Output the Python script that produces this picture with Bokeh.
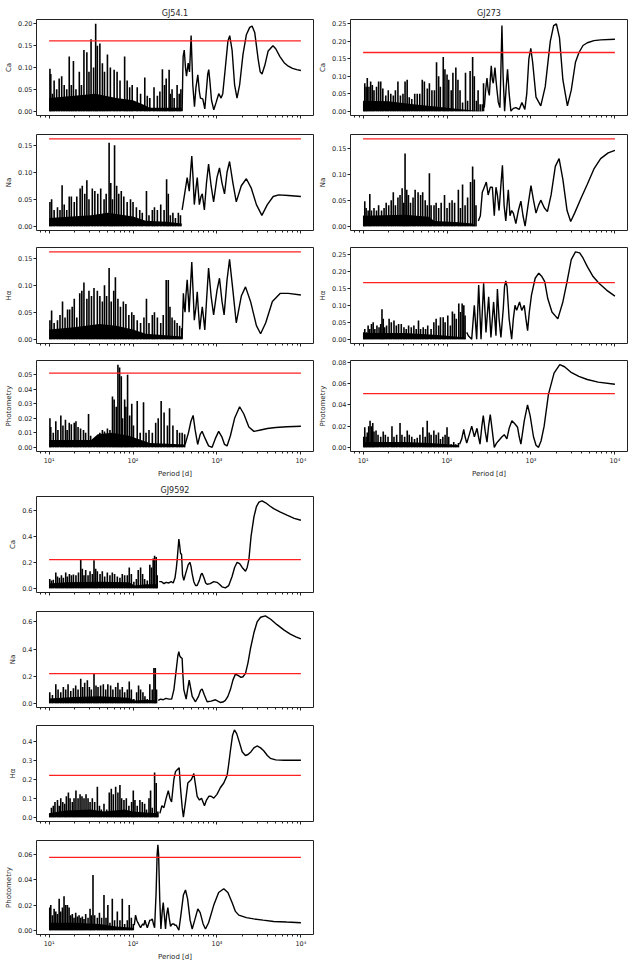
import numpy as np
from bokeh.plotting import figure
from bokeh.layouts import column, row
from bokeh.models import FixedTicker, PrintfTickFormatter
from bokeh.embed import file_html
from bokeh.resources import INLINE

# ---------------- data: (log10 period [d], power) ----------------
threshold_period = [10, 10000]
x_ticks = [10, 100, 1000, 10000]
x_tick_labels = ["10\u00b9", "10\u00b2", "10\u00b3", "10\u2074"]

# GJ54.1 -------------------------------------------------------------
gj54_ca_spikes = [(1.01,0.097),(1.02,0.085),(1.04,0.04),(1.06,0.07),(1.09,0.05),(1.12,0.075),(1.15,0.08),(1.18,0.06),(1.21,0.05),(1.24,0.125),(1.265,0.06),(1.29,0.115),(1.32,0.05),(1.36,0.09),(1.385,0.06),(1.415,0.14),(1.45,0.135),(1.475,0.09),(1.50,0.165),(1.53,0.10),(1.555,0.20),(1.575,0.15),(1.605,0.155),(1.635,0.11),(1.66,0.09),(1.695,0.13),(1.73,0.10),(1.775,0.095),(1.81,0.09),(1.845,0.07),(1.90,0.125),(1.93,0.07),(1.96,0.055),(1.99,0.06),(2.05,0.055),(2.09,0.04),(2.14,0.077),(2.17,0.035),(2.20,0.03),(2.25,0.055),(2.29,0.035),(2.32,0.045),(2.35,0.096),(2.375,0.06),(2.395,0.075),(2.43,0.095),(2.445,0.04),(2.465,0.05),(2.49,0.03),(2.525,0.06),(2.55,0.04),(2.57,0.05)]
gj54_ca_mass = [(1.0,0.03),(1.3,0.035),(1.55,0.04),(1.8,0.03),(2.0,0.025),(2.12,0.015),(2.2,0.008),(2.58,0.008)]
gj54_ca_curve = [(2.585,0.0),(2.592,0.08),(2.597,0.125),(2.61,0.14),(2.625,0.10),(2.637,0.08),(2.657,0.11),(2.673,0.09),(2.692,0.173),(2.712,0.06),(2.732,0.01),(2.75,0.055),(2.772,0.083),(2.79,0.045),(2.803,0.03),(2.831,0.028),(2.855,0.005),(2.875,0.05),(2.89,0.085),(2.902,0.095),(2.915,0.07),(2.935,0.025),(2.962,0.003),(2.99,0.02),(3.021,0.04),(3.049,0.03),(3.069,0.04),(3.10,0.10),(3.13,0.16),(3.152,0.173),(3.18,0.14),(3.21,0.06),(3.239,0.03),(3.27,0.06),(3.31,0.13),(3.35,0.175),(3.39,0.192),(3.418,0.195),(3.45,0.18),(3.49,0.12),(3.515,0.09),(3.537,0.085),(3.57,0.105),(3.61,0.138),(3.667,0.15),(3.70,0.143),(3.75,0.125),(3.80,0.111),(3.85,0.103),(3.90,0.098),(3.95,0.095),(4.0,0.093)]

gj54_na_spikes = [(1.01,0.045),(1.03,0.05),(1.06,0.03),(1.10,0.035),(1.13,0.03),(1.155,0.076),(1.18,0.04),(1.21,0.03),(1.24,0.055),(1.265,0.055),(1.30,0.045),(1.33,0.055),(1.37,0.07),(1.395,0.075),(1.425,0.06),(1.45,0.085),(1.475,0.05),(1.515,0.07),(1.545,0.065),(1.58,0.06),(1.615,0.07),(1.655,0.05),(1.68,0.06),(1.715,0.155),(1.735,0.08),(1.755,0.05),(1.78,0.15),(1.805,0.075),(1.83,0.06),(1.86,0.065),(1.89,0.055),(1.93,0.045),(1.97,0.05),(2.00,0.045),(2.04,0.035),(2.08,0.03),(2.11,0.025),(2.16,0.065),(2.19,0.02),(2.23,0.03),(2.255,0.035),(2.29,0.03),(2.33,0.04),(2.37,0.03),(2.40,0.087),(2.42,0.06),(2.445,0.02),(2.475,0.025),(2.505,0.015),(2.54,0.025),(2.565,0.02)]
gj54_na_mass = [(1.0,0.015),(1.5,0.02),(1.7,0.025),(2.0,0.018),(2.15,0.01),(2.4,0.008),(2.58,0.005)]
gj54_na_curve = [(2.585,0.03),(2.605,0.05),(2.625,0.07),(2.645,0.09),(2.67,0.065),(2.685,0.10),(2.70,0.13),(2.715,0.09),(2.73,0.04),(2.75,0.07),(2.765,0.09),(2.78,0.06),(2.79,0.04),(2.81,0.055),(2.825,0.06),(2.85,0.03),(2.875,0.08),(2.90,0.115),(2.93,0.075),(2.96,0.045),(3.0,0.09),(3.03,0.108),(3.06,0.08),(3.09,0.06),(3.12,0.10),(3.15,0.12),(3.19,0.08),(3.23,0.045),(3.29,0.075),(3.35,0.088),(3.41,0.07),(3.47,0.04),(3.535,0.02),(3.60,0.04),(3.67,0.055),(3.735,0.058),(3.85,0.057),(4.0,0.055)]

gj54_ha_spikes = [(1.01,0.035),(1.03,0.053),(1.06,0.03),(1.10,0.035),(1.13,0.045),(1.16,0.07),(1.19,0.04),(1.22,0.055),(1.245,0.055),(1.275,0.06),(1.30,0.075),(1.33,0.04),(1.365,0.085),(1.39,0.09),(1.415,0.105),(1.45,0.075),(1.475,0.09),(1.505,0.08),(1.535,0.095),(1.575,0.09),(1.605,0.08),(1.635,0.07),(1.66,0.10),(1.685,0.08),(1.715,0.132),(1.74,0.07),(1.77,0.09),(1.79,0.115),(1.82,0.075),(1.85,0.06),(1.885,0.07),(1.915,0.065),(1.95,0.045),(1.985,0.05),(2.01,0.045),(2.05,0.035),(2.09,0.03),(2.13,0.04),(2.16,0.075),(2.19,0.03),(2.23,0.045),(2.255,0.05),(2.29,0.04),(2.33,0.03),(2.36,0.045),(2.395,0.11),(2.42,0.11),(2.44,0.06),(2.465,0.04),(2.495,0.035),(2.525,0.03),(2.555,0.025),(2.58,0.02)]
gj54_ha_mass = [(1.0,0.018),(1.3,0.022),(1.6,0.028),(1.8,0.025),(2.0,0.018),(2.15,0.01),(2.58,0.005)]
gj54_ha_curve = [(2.585,0.0),(2.593,0.05),(2.60,0.085),(2.61,0.06),(2.62,0.05),(2.63,0.08),(2.645,0.11),(2.66,0.075),(2.668,0.05),(2.685,0.10),(2.70,0.143),(2.715,0.09),(2.73,0.035),(2.75,0.06),(2.765,0.088),(2.78,0.05),(2.795,0.018),(2.81,0.04),(2.825,0.06),(2.84,0.04),(2.855,0.017),(2.875,0.07),(2.90,0.132),(2.93,0.08),(2.96,0.045),(3.0,0.09),(3.03,0.113),(3.06,0.07),(3.085,0.045),(3.12,0.11),(3.15,0.148),(3.19,0.09),(3.23,0.03),(3.29,0.08),(3.34,0.097),(3.40,0.07),(3.47,0.025),(3.52,0.01),(3.58,0.03),(3.66,0.07),(3.755,0.085),(3.85,0.085),(4.0,0.082)]

gj54_ph_spikes = [(1.01,0.02),(1.02,0.014),(1.05,0.01),(1.08,0.018),(1.105,0.012),(1.14,0.022),(1.165,0.015),(1.195,0.019),(1.215,0.012),(1.24,0.017),(1.265,0.016),(1.30,0.017),(1.32,0.018),(1.345,0.014),(1.375,0.013),(1.41,0.012),(1.435,0.01),(1.47,0.023),(1.495,0.008),(1.535,0.005),(1.575,0.006),(1.605,0.01),(1.635,0.012),(1.66,0.011),(1.695,0.013),(1.725,0.012),(1.755,0.035),(1.775,0.033),(1.80,0.028),(1.82,0.057),(1.84,0.055),(1.86,0.049),(1.875,0.02),(1.90,0.033),(1.915,0.028),(1.935,0.05),(1.96,0.022),(1.985,0.03),(2.005,0.015),(2.05,0.032),(2.085,0.01),(2.125,0.031),(2.155,0.01),(2.19,0.012),(2.23,0.01),(2.27,0.017),(2.30,0.02),(2.335,0.032),(2.37,0.024),(2.41,0.015),(2.435,0.027),(2.475,0.015),(2.525,0.012),(2.555,0.01),(2.585,0.01),(2.615,0.009)]
gj54_ph_mass = [(1.0,0.005),(1.5,0.005),(1.58,0.009),(1.75,0.01),(1.95,0.008),(2.2,0.003),(2.62,0.002)]
gj54_ph_curve = [(2.62,0.002),(2.66,0.01),(2.69,0.018),(2.716,0.022),(2.74,0.012),(2.77,0.002),(2.80,0.009),(2.823,0.011),(2.86,0.006),(2.90,0.001),(2.942,0.0),(2.98,0.006),(3.02,0.011),(3.06,0.007),(3.09,0.002),(3.12,0.001),(3.16,0.008),(3.21,0.02),(3.27,0.028),(3.32,0.023),(3.38,0.014),(3.44,0.011),(3.52,0.012),(3.60,0.013),(3.70,0.0137),(3.834,0.0142),(4.0,0.0145)]

# GJ273 --------------------------------------------------------------
gj273_ca_spikes = [(1.008,0.025),(1.02,0.08),(1.036,0.07),(1.05,0.095),(1.07,0.07),(1.09,0.085),(1.11,0.075),(1.13,0.06),(1.16,0.07),(1.185,0.085),(1.21,0.085),(1.235,0.065),(1.27,0.045),(1.30,0.06),(1.33,0.05),(1.36,0.045),(1.385,0.06),(1.415,0.085),(1.445,0.045),(1.475,0.05),(1.50,0.085),(1.525,0.09),(1.55,0.04),(1.58,0.035),(1.615,0.05),(1.645,0.05),(1.675,0.05),(1.705,0.09),(1.73,0.085),(1.765,0.065),(1.79,0.08),(1.82,0.06),(1.85,0.06),(1.875,0.14),(1.90,0.10),(1.92,0.07),(1.955,0.155),(1.975,0.12),(2.00,0.105),(2.02,0.09),(2.05,0.06),(2.07,0.11),(2.105,0.125),(2.13,0.09),(2.155,0.06),(2.185,0.025),(2.22,0.11),(2.245,0.03),(2.275,0.115),(2.305,0.155),(2.325,0.10),(2.35,0.03),(2.37,0.06),(2.395,0.02),(2.42,0.02),(2.435,0.08)]
gj273_ca_mass = [(1.0,0.03),(1.3,0.028),(1.6,0.02),(1.8,0.015),(2.0,0.01),(2.2,0.005),(2.44,0.0)]
gj273_ca_curve = [(2.444,0.01),(2.46,0.06),(2.476,0.095),(2.49,0.06),(2.504,0.045),(2.515,0.09),(2.527,0.13),(2.54,0.09),(2.551,0.08),(2.56,0.1),(2.571,0.125),(2.583,0.09),(2.595,0.06),(2.611,0.025),(2.63,0.01),(2.64,0.1),(2.654,0.245),(2.668,0.1),(2.686,0.0),(2.705,0.07),(2.721,0.12),(2.74,0.05),(2.761,0.0),(2.79,0.008),(2.82,0.01),(2.86,0.005),(2.892,0.025),(2.927,0.005),(2.95,0.05),(2.975,0.15),(2.998,0.18),(3.02,0.14),(3.06,0.04),(3.117,0.015),(3.17,0.07),(3.23,0.2),(3.27,0.245),(3.303,0.25),(3.34,0.21),(3.38,0.09),(3.434,0.015),(3.48,0.06),(3.53,0.14),(3.572,0.168),(3.62,0.188),(3.671,0.196),(3.75,0.202),(3.83,0.204),(4.0,0.206)]

gj273_na_spikes = [(1.008,0.02),(1.02,0.048),(1.036,0.035),(1.06,0.03),(1.08,0.062),(1.10,0.03),(1.13,0.035),(1.16,0.03),(1.185,0.04),(1.22,0.03),(1.25,0.035),(1.275,0.045),(1.305,0.04),(1.335,0.05),(1.36,0.065),(1.385,0.04),(1.415,0.055),(1.44,0.06),(1.465,0.073),(1.485,0.045),(1.50,0.14),(1.52,0.07),(1.54,0.06),(1.565,0.045),(1.595,0.055),(1.62,0.07),(1.655,0.065),(1.685,0.06),(1.71,0.065),(1.74,0.05),(1.765,0.04),(1.79,0.102),(1.81,0.04),(1.845,0.04),(1.87,0.045),(1.90,0.035),(1.93,0.045),(1.97,0.06),(2.0,0.035),(2.03,0.045),(2.06,0.05),(2.09,0.045),(2.135,0.07),(2.16,0.035),(2.185,0.08),(2.215,0.04),(2.245,0.055),(2.28,0.085),(2.305,0.115),(2.325,0.09),(2.345,0.04)]
gj273_na_mass = [(1.0,0.02),(1.5,0.022),(1.78,0.018),(1.85,0.01),(2.1,0.008),(2.3,0.005),(2.35,0.0)]
gj273_na_curve = [(2.373,0.01),(2.397,0.02),(2.42,0.065),(2.444,0.075),(2.468,0.085),(2.49,0.06),(2.516,0.075),(2.54,0.075),(2.563,0.02),(2.583,0.075),(2.60,0.06),(2.62,0.03),(2.64,0.075),(2.66,0.117),(2.68,0.04),(2.70,0.01),(2.73,0.07),(2.75,0.02),(2.77,0.03),(2.79,0.025),(2.82,0.005),(2.85,0.03),(2.88,0.048),(2.905,0.02),(2.93,0.0),(2.965,0.04),(3.0,0.078),(3.03,0.05),(3.06,0.025),(3.09,0.04),(3.117,0.05),(3.16,0.035),(3.196,0.028),(3.24,0.06),(3.29,0.115),(3.335,0.13),(3.38,0.09),(3.43,0.03),(3.473,0.009),(3.52,0.025),(3.60,0.055),(3.67,0.08),(3.75,0.11),(3.83,0.13),(3.92,0.141),(4.0,0.146)]

gj273_ha_spikes = [(1.008,0.02),(1.02,0.03),(1.04,0.02),(1.06,0.04),(1.08,0.03),(1.10,0.045),(1.12,0.05),(1.14,0.03),(1.165,0.04),(1.19,0.035),(1.21,0.045),(1.225,0.088),(1.24,0.06),(1.257,0.035),(1.28,0.04),(1.31,0.06),(1.336,0.05),(1.368,0.055),(1.396,0.04),(1.423,0.045),(1.455,0.045),(1.487,0.035),(1.514,0.03),(1.542,0.04),(1.574,0.035),(1.605,0.04),(1.633,0.03),(1.66,0.055),(1.685,0.03),(1.716,0.035),(1.744,0.03),(1.77,0.04),(1.81,0.03),(1.843,0.05),(1.87,0.06),(1.90,0.04),(1.922,0.065),(1.954,0.065),(1.977,0.05),(2.009,0.07),(2.04,0.04),(2.064,0.082),(2.088,0.075),(2.11,0.06),(2.14,0.105),(2.16,0.08),(2.18,0.105),(2.2,0.1),(2.215,0.07)]
gj273_ha_mass = [(1.0,0.018),(1.5,0.018),(1.8,0.014),(2.0,0.01),(2.22,0.005)]
gj273_ha_curve = [(2.235,0.02),(2.254,0.01),(2.274,0.005),(2.294,0.0),(2.325,0.1),(2.353,0.0),(2.377,0.16),(2.405,0.0),(2.436,0.165),(2.464,0.02),(2.496,0.125),(2.523,0.005),(2.555,0.11),(2.583,0.01),(2.60,0.148),(2.62,0.06),(2.642,0.005),(2.67,0.09),(2.685,0.155),(2.70,0.172),(2.715,0.155),(2.74,0.06),(2.77,0.0),(2.79,0.06),(2.81,0.1),(2.83,0.085),(2.864,0.11),(2.89,0.085),(2.92,0.1),(2.94,0.06),(2.96,0.025),(2.98,0.08),(3.006,0.13),(3.05,0.18),(3.093,0.195),(3.13,0.185),(3.164,0.17),(3.20,0.12),(3.25,0.08),(3.32,0.06),(3.38,0.11),(3.43,0.17),(3.48,0.235),(3.53,0.258),(3.58,0.255),(3.62,0.24),(3.67,0.215),(3.74,0.185),(3.81,0.165),(3.90,0.145),(4.0,0.127)]

gj273_ph_spikes = [(1.008,0.01),(1.02,0.019),(1.036,0.01),(1.05,0.014),(1.067,0.02),(1.083,0.025),(1.10,0.02),(1.115,0.023),(1.13,0.015),(1.154,0.016),(1.178,0.012),(1.21,0.01),(1.24,0.015),(1.265,0.012),(1.297,0.01),(1.344,0.02),(1.368,0.01),(1.40,0.012),(1.44,0.023),(1.463,0.012),(1.495,0.01),(1.526,0.016),(1.55,0.012),(1.58,0.01),(1.613,0.008),(1.645,0.009),(1.677,0.012),(1.712,0.019),(1.74,0.01),(1.764,0.025),(1.787,0.014),(1.81,0.012),(1.843,0.016),(1.87,0.012),(1.898,0.014),(1.922,0.008),(1.95,0.01),(1.977,0.012),(2.0,0.019),(2.02,0.01),(2.05,0.003),(2.08,0.005),(2.104,0.003),(2.136,0.004)]
gj273_ph_mass = [(1.0,0.005),(1.5,0.005),(1.8,0.004),(2.0,0.003),(2.14,0.002)]
gj273_ph_curve = [(2.15,0.003),(2.175,0.008),(2.199,0.017),(2.215,0.01),(2.235,0.004),(2.265,0.012),(2.294,0.02),(2.326,0.01),(2.357,0.018),(2.375,0.01),(2.393,0.003),(2.415,0.02),(2.432,0.03),(2.455,0.015),(2.476,0.005),(2.495,0.02),(2.515,0.031),(2.54,0.015),(2.563,0.0),(2.59,0.004),(2.622,0.007),(2.655,0.01),(2.682,0.012),(2.713,0.008),(2.74,0.018),(2.773,0.025),(2.81,0.022),(2.84,0.019),(2.86,0.01),(2.88,0.003),(2.92,0.025),(2.959,0.04),(2.99,0.03),(3.03,0.01),(3.06,0.002),(3.09,0.0),(3.12,0.006),(3.157,0.02),(3.208,0.05),(3.275,0.07),(3.343,0.078),(3.40,0.076),(3.473,0.071),(3.57,0.067),(3.671,0.064),(3.80,0.0615),(4.0,0.0595)]

# GJ9592 -------------------------------------------------------------
gj9592_ca_spikes = [(1.008,0.07),(1.028,0.06),(1.05,0.065),(1.08,0.12),(1.10,0.09),(1.123,0.08),(1.147,0.10),(1.17,0.08),(1.198,0.12),(1.218,0.09),(1.242,0.11),(1.266,0.10),(1.29,0.105),(1.32,0.10),(1.35,0.12),(1.377,0.22),(1.396,0.15),(1.416,0.10),(1.436,0.14),(1.464,0.10),(1.488,0.13),(1.515,0.11),(1.535,0.215),(1.555,0.15),(1.575,0.13),(1.607,0.11),(1.634,0.13),(1.662,0.09),(1.694,0.12),(1.725,0.10),(1.753,0.12),(1.78,0.11),(1.813,0.09),(1.844,0.08),(1.872,0.11),(1.90,0.10),(1.932,0.10),(1.955,0.16),(1.98,0.11),(2.01,0.05),(2.04,0.07),(2.062,0.14),(2.09,0.16),(2.114,0.11),(2.138,0.07),(2.17,0.06),(2.20,0.18),(2.22,0.16),(2.24,0.23),(2.257,0.25),(2.276,0.24),(2.288,0.10)]
gj9592_ca_mass = [(1.0,0.035),(1.2,0.045),(1.6,0.05),(1.95,0.045),(2.02,0.02),(2.15,0.03),(2.29,0.03)]
gj9592_ca_curve = [(2.312,0.05),(2.34,0.05),(2.368,0.035),(2.395,0.045),(2.427,0.04),(2.455,0.05),(2.479,0.04),(2.50,0.08),(2.515,0.15),(2.526,0.22),(2.546,0.38),(2.556,0.33),(2.566,0.27),(2.578,0.26),(2.59,0.10),(2.605,0.06),(2.63,0.12),(2.657,0.18),(2.677,0.20),(2.69,0.17),(2.705,0.11),(2.724,0.05),(2.745,0.02),(2.764,0.02),(2.79,0.06),(2.81,0.105),(2.823,0.115),(2.845,0.08),(2.865,0.04),(2.883,0.03),(2.92,0.035),(2.962,0.05),(3.0,0.045),(3.03,0.03),(3.06,0.01),(3.10,0.002),(3.14,0.02),(3.18,0.09),(3.21,0.16),(3.24,0.20),(3.27,0.19),(3.30,0.16),(3.34,0.13),(3.36,0.16),(3.38,0.22),(3.406,0.40),(3.44,0.55),(3.47,0.63),(3.50,0.665),(3.537,0.675),(3.58,0.66),(3.63,0.635),(3.676,0.615),(3.75,0.59),(3.834,0.565),(3.92,0.54),(4.0,0.525)]

gj9592_na_spikes = [(1.008,0.08),(1.04,0.06),(1.08,0.14),(1.107,0.10),(1.139,0.08),(1.17,0.12),(1.198,0.10),(1.226,0.14),(1.258,0.09),(1.29,0.11),(1.317,0.13),(1.345,0.10),(1.377,0.18),(1.40,0.12),(1.424,0.15),(1.456,0.17),(1.48,0.12),(1.503,0.10),(1.535,0.22),(1.559,0.13),(1.583,0.12),(1.614,0.13),(1.646,0.14),(1.674,0.10),(1.70,0.14),(1.733,0.13),(1.76,0.10),(1.793,0.12),(1.82,0.15),(1.844,0.10),(1.872,0.12),(1.90,0.08),(1.932,0.10),(1.955,0.16),(1.98,0.10),(2.01,0.03),(2.043,0.08),(2.066,0.13),(2.09,0.10),(2.118,0.08),(2.142,0.05),(2.17,0.03),(2.20,0.14),(2.229,0.10),(2.249,0.26),(2.265,0.26),(2.28,0.10)]
gj9592_na_mass = [(1.0,0.035),(1.3,0.045),(1.6,0.05),(1.95,0.04),(2.02,0.02),(2.15,0.025),(2.28,0.02)]
gj9592_na_curve = [(2.30,0.02),(2.328,0.03),(2.36,0.025),(2.39,0.035),(2.43,0.03),(2.46,0.03),(2.487,0.10),(2.506,0.20),(2.534,0.35),(2.546,0.38),(2.556,0.35),(2.566,0.34),(2.585,0.33),(2.595,0.2),(2.605,0.1),(2.633,0.03),(2.65,0.10),(2.669,0.17),(2.687,0.11),(2.705,0.05),(2.744,0.01),(2.78,0.05),(2.805,0.095),(2.823,0.105),(2.85,0.06),(2.883,0.01),(2.93,0.015),(2.982,0.025),(3.01,0.015),(3.04,0.005),(3.07,0.008),(3.10,0.02),(3.13,0.05),(3.16,0.10),(3.19,0.17),(3.22,0.215),(3.25,0.205),(3.287,0.19),(3.31,0.195),(3.34,0.22),(3.37,0.30),(3.398,0.40),(3.44,0.52),(3.478,0.60),(3.52,0.635),(3.577,0.645),(3.64,0.62),(3.715,0.58),(3.80,0.54),(3.874,0.51),(3.94,0.49),(4.0,0.475)]

gj9592_ha_spikes = [(1.008,0.02),(1.028,0.05),(1.05,0.06),(1.07,0.08),(1.10,0.09),(1.12,0.06),(1.139,0.10),(1.163,0.08),(1.186,0.07),(1.206,0.11),(1.23,0.13),(1.25,0.10),(1.277,0.08),(1.297,0.10),(1.32,0.14),(1.345,0.10),(1.369,0.12),(1.392,0.11),(1.416,0.10),(1.44,0.12),(1.464,0.10),(1.488,0.08),(1.515,0.10),(1.543,0.08),(1.575,0.16),(1.60,0.06),(1.622,0.04),(1.654,0.07),(1.686,0.04),(1.717,0.13),(1.741,0.15),(1.765,0.12),(1.793,0.16),(1.82,0.13),(1.844,0.17),(1.864,0.10),(1.892,0.09),(1.92,0.10),(1.951,0.06),(1.983,0.08),(2.003,0.14),(2.023,0.09),(2.05,0.06),(2.082,0.09),(2.11,0.08),(2.138,0.07),(2.16,0.04),(2.19,0.10),(2.209,0.14),(2.229,0.05),(2.257,0.235),(2.276,0.18),(2.296,0.03)]
gj9592_ha_mass = [(1.0,0.02),(1.2,0.035),(1.5,0.04),(1.65,0.03),(1.9,0.04),(2.0,0.03),(2.15,0.025),(2.3,0.02)]
gj9592_ha_curve = [(2.32,0.02),(2.344,0.06),(2.368,0.05),(2.395,0.10),(2.42,0.14),(2.44,0.10),(2.459,0.08),(2.487,0.20),(2.506,0.24),(2.526,0.25),(2.55,0.26),(2.566,0.15),(2.586,0.05),(2.60,0.0),(2.625,0.08),(2.653,0.18),(2.677,0.19),(2.697,0.20),(2.724,0.23),(2.744,0.17),(2.764,0.11),(2.792,0.09),(2.816,0.10),(2.851,0.06),(2.875,0.09),(2.903,0.11),(2.93,0.11),(2.962,0.10),(3.0,0.12),(3.04,0.155),(3.081,0.18),(3.121,0.22),(3.14,0.28),(3.16,0.35),(3.185,0.43),(3.208,0.46),(3.235,0.44),(3.27,0.39),(3.30,0.345),(3.339,0.325),(3.37,0.33),(3.406,0.345),(3.44,0.365),(3.478,0.375),(3.52,0.365),(3.557,0.35),(3.60,0.325),(3.636,0.31),(3.70,0.302),(3.80,0.30),(4.0,0.30)]

gj9592_ph_spikes = [(1.008,0.018),(1.02,0.02),(1.04,0.012),(1.06,0.017),(1.08,0.015),(1.10,0.013),(1.12,0.025),(1.139,0.015),(1.159,0.018),(1.178,0.027),(1.198,0.02),(1.218,0.02),(1.238,0.018),(1.258,0.012),(1.277,0.013),(1.297,0.01),(1.317,0.014),(1.337,0.011),(1.357,0.012),(1.377,0.01),(1.396,0.011),(1.416,0.009),(1.436,0.013),(1.464,0.01),(1.488,0.017),(1.503,0.012),(1.523,0.044),(1.543,0.012),(1.575,0.01),(1.60,0.014),(1.626,0.01),(1.654,0.028),(1.678,0.01),(1.70,0.02),(1.725,0.006),(1.753,0.025),(1.78,0.008),(1.813,0.015),(1.844,0.008),(1.872,0.025),(1.90,0.005),(1.932,0.008),(1.955,0.02),(1.98,0.01),(2.003,0.005)]
gj9592_ph_mass = [(1.0,0.006),(1.3,0.006),(1.6,0.005),(1.8,0.003),(2.0,0.002)]
gj9592_ph_curve = [(2.015,0.004),(2.03,0.012),(2.045,0.008),(2.058,0.006),(2.09,0.002),(2.105,0.004),(2.118,0.005),(2.13,0.004),(2.142,0.008),(2.155,0.005),(2.17,0.002),(2.185,0.005),(2.20,0.008),(2.215,0.008),(2.229,0.009),(2.243,0.005),(2.257,0.002),(2.275,0.03),(2.287,0.06),(2.296,0.068),(2.305,0.06),(2.318,0.025),(2.332,0.001),(2.348,0.015),(2.36,0.022),(2.373,0.012),(2.387,0.001),(2.40,0.012),(2.415,0.018),(2.43,0.01),(2.447,0.003),(2.467,0.005),(2.487,0.005),(2.50,0.004),(2.514,0.004),(2.546,0.0),(2.57,0.012),(2.60,0.028),(2.625,0.032),(2.65,0.025),(2.68,0.008),(2.705,0.001),(2.735,0.008),(2.772,0.017),(2.80,0.014),(2.835,0.005),(2.863,0.001),(2.90,0.006),(2.962,0.02),(3.02,0.03),(3.081,0.033),(3.13,0.03),(3.18,0.022),(3.22,0.015),(3.26,0.012),(3.35,0.01),(3.438,0.009),(3.55,0.008),(3.676,0.007),(3.83,0.0065),(4.0,0.006)]

# false-alarm thresholds (red lines)
thr_gj54 = [0.161, 0.162, 0.162, 0.0512]
thr_gj273 = [0.168, 0.168, 0.167, 0.0506]
thr_gj9592 = [0.22, 0.218, 0.22, 0.0579]

labels = ["Ca", "Na", "H\u03b1", "Photometry"]
yticks_gj54 = [[0, 0.05, 0.10, 0.15, 0.20], [0, 0.05, 0.10, 0.15], [0, 0.05, 0.10, 0.15], [0, 0.01, 0.02, 0.03, 0.04, 0.05, 0.06]]
yticks_gj273 = [[0, 0.05, 0.10, 0.15, 0.20, 0.25], [0, 0.05, 0.10, 0.15], [0, 0.05, 0.10, 0.15, 0.20, 0.25], [0, 0.02, 0.04, 0.06, 0.08]]
yticks_gj9592 = [[0, 0.2, 0.4, 0.6], [0, 0.2, 0.4, 0.6], [0, 0.1, 0.2, 0.3, 0.4], [0, 0.02, 0.04, 0.06]]
yfmt_gj54 = ["%.2f"] * 4
yfmt_gj273 = ["%.2f"] * 4
yfmt_gj9592 = ["%.1f", "%.1f", "%.1f", "%.2f"]

# ---------------- layout / style ----------------
FONT = "DejaVu Sans"
TXT = "#262626"
LEFT = (314, 36, 1)
RIGHT = (322, 36, 9)
ROWS_A = [(130, 19, 15), (113, 4, 13), (113, 4, 13), (124, 4, 24)]
ROWS_B = [(127, 16, 15), (114, 4, 14), (115, 4, 15), (127, 4, 23)]

minor = [k * 10 ** d for d in range(0, 5) for k in range(2, 10)]


def panel(spikes, mass, curve, thr, ylabel, yticks, yfmt, col, rowspec, title=None, bottom=False):
    w, mbl, mbr = col
    h, mbt, mbb = rowspec
    sL, sv = map(np.array, zip(*spikes))
    mL, mv = map(np.array, zip(*mass))
    cL, cv = map(np.array, zip(*curve))
    lo = float(min(0.0, sv.min(), cv.min()))
    hi = float(max(sv.max(), cv.max(), thr))
    pad = 0.05 * (hi - lo)
    xl = np.log10(threshold_period)
    xpad = 0.05 * (xl[1] - xl[0])
    p = figure(width=w, height=h, x_axis_type="log",
               x_range=(float(10 ** (xl[0] - xpad)), float(10 ** (xl[1] + xpad))),
               y_range=(lo - pad, hi + pad),
               output_backend="svg", toolbar_location=None,
               min_border_left=mbl, min_border_right=mbr,
               min_border_top=mbt, min_border_bottom=mbb)
    p.xgrid.visible = False
    p.ygrid.visible = False
    p.outline_line_color = "#222222"
    p.outline_line_width = 1
    p.background_fill_color = "white"
    p.border_fill_color = "white"
    if title:
        p.title.text = title
        p.title.align = "center"
        p.title.text_font = FONT
        p.title.text_font_size = "8px"
        p.title.text_font_style = "normal"
        p.title.text_color = TXT
        p.title.standoff = 3

    # dense noise: filled mass + spikes
    p.varea(x=10 ** mL, y1=np.zeros_like(mv), y2=mv, fill_color="black")
    p.segment(x0=10 ** sL, y0=np.zeros_like(sv), x1=10 ** sL, y1=sv,
              line_color="black", line_width=1.6)
    p.line(10 ** cL, cv, line_color="black", line_width=1.4)
    p.line(threshold_period, [thr, thr], line_color="#ff2020", line_width=1.3)

    xa = p.xaxis[0]
    xa.ticker = FixedTicker(ticks=x_ticks, minor_ticks=minor)
    xa.axis_line_color = None
    xa.major_tick_out = 3
    xa.major_tick_in = 0
    xa.minor_tick_out = 2
    xa.minor_tick_in = 0
    xa.major_tick_line_color = "#222222"
    xa.minor_tick_line_color = "#222222"
    xa.major_label_overrides = {t: s for t, s in zip(x_ticks, x_tick_labels)}
    xa.major_label_text_font = FONT
    xa.major_label_text_font_size = "6.5px"
    xa.major_label_text_color = TXT
    if bottom:
        xa.major_label_standoff = 2
        xa.axis_label = "Period [d]"
        xa.axis_label_text_font = FONT
        xa.axis_label_text_font_size = "7px"
        xa.axis_label_text_font_style = "normal"
        xa.axis_label_text_color = TXT
        xa.axis_label_standoff = 2
    else:
        xa.major_label_text_alpha = 0
        xa.major_label_standoff = 0

    ya = p.yaxis[0]
    ya.ticker = FixedTicker(ticks=yticks)
    ya.formatter = PrintfTickFormatter(format=yfmt)
    ya.axis_line_color = None
    ya.major_tick_out = 3
    ya.major_tick_in = 0
    ya.minor_tick_line_color = None
    ya.major_tick_line_color = "#222222"
    ya.major_label_text_font = FONT
    ya.major_label_text_font_size = "6.5px"
    ya.major_label_text_color = TXT
    ya.major_label_standoff = 1
    ya.axis_label = ylabel
    ya.axis_label_text_font = FONT
    ya.axis_label_text_font_size = "7px"
    ya.axis_label_text_font_style = "normal"
    ya.axis_label_text_color = TXT
    ya.axis_label_standoff = 2
    return p


groups = [
    ("GJ54.1", [(gj54_ca_spikes, gj54_ca_mass, gj54_ca_curve), (gj54_na_spikes, gj54_na_mass, gj54_na_curve),
                (gj54_ha_spikes, gj54_ha_mass, gj54_ha_curve), (gj54_ph_spikes, gj54_ph_mass, gj54_ph_curve)],
     thr_gj54, yticks_gj54, yfmt_gj54, LEFT, ROWS_A),
    ("GJ273", [(gj273_ca_spikes, gj273_ca_mass, gj273_ca_curve), (gj273_na_spikes, gj273_na_mass, gj273_na_curve),
               (gj273_ha_spikes, gj273_ha_mass, gj273_ha_curve), (gj273_ph_spikes, gj273_ph_mass, gj273_ph_curve)],
     thr_gj273, yticks_gj273, yfmt_gj273, RIGHT, ROWS_A),
    ("GJ9592", [(gj9592_ca_spikes, gj9592_ca_mass, gj9592_ca_curve), (gj9592_na_spikes, gj9592_na_mass, gj9592_na_curve),
                (gj9592_ha_spikes, gj9592_ha_mass, gj9592_ha_curve), (gj9592_ph_spikes, gj9592_ph_mass, gj9592_ph_curve)],
     thr_gj9592, yticks_gj9592, yfmt_gj9592, LEFT, ROWS_B),
]

cols = []
for name, series, thrs, yts, yfs, colspec, rows in groups:
    figs = []
    for i, (sp, ms, cv) in enumerate(series):
        figs.append(panel(sp, ms, cv, thrs[i], labels[i], yts[i], yfs[i], colspec, rows[i],
                          title=name if i == 0 else None, bottom=(i == 3)))
    cols.append(column(*figs, spacing=0))

layout = column(row(cols[0], cols[1], spacing=0), cols[2], spacing=0)

open("out.html", "w").write(file_html(layout, INLINE))
